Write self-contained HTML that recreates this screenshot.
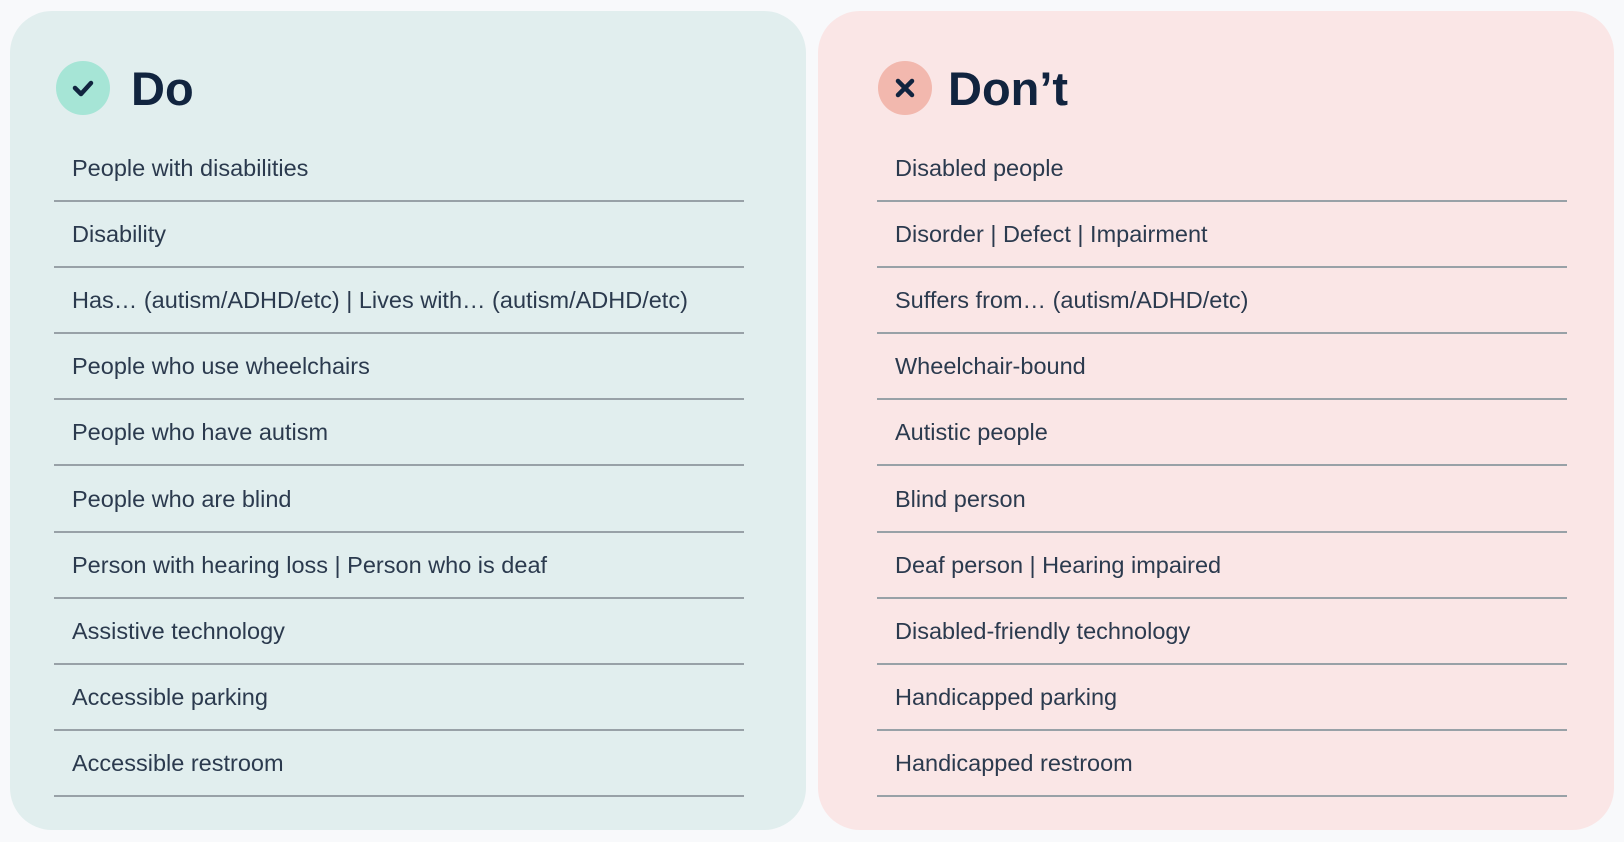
<!DOCTYPE html>
<html><head><meta charset="utf-8"><style>
html,body{margin:0;padding:0;}
body{width:1624px;height:842px;background:#f8f9fb;position:relative;overflow:hidden;font-family:"Liberation Sans",sans-serif;}
.card{position:absolute;top:11px;width:796px;height:819px;border-radius:42px;}
.do{left:10px;background:#e1eeee;}
.dont{left:818px;background:#fae6e6;}
.circ{position:absolute;top:61px;width:54px;height:54px;border-radius:50%;}
.title{position:absolute;top:61px;font-size:47px;font-weight:bold;color:#11243f;}
.item{position:absolute;height:66px;border-bottom:2px solid #98a1a7;box-sizing:border-box;}
.item span{position:absolute;left:18px;top:19px;font-size:23.5px;color:#2b3a4e;white-space:nowrap;}
</style></head><body>
<div class="card do"></div>
<div class="card dont"></div>
<div class="circ" style="left:56px;background:#a6e5d6"><svg width="54" height="54"><path d="M19 27 L25 33 L35 22" stroke="#11243f" stroke-width="4.5" fill="none" stroke-linecap="round" stroke-linejoin="round"/></svg></div>
<div class="title" style="left:131px">Do</div>
<div class="circ" style="left:878px;background:#f2b8ae"><svg width="54" height="54"><path d="M20 20 L34 34 M34 20 L20 34" stroke="#11243f" stroke-width="4.5" fill="none" stroke-linecap="round"/></svg></div>
<div class="title" style="left:948px">Don’t</div>
<div id="l"></div>
<script>
var a=["People with disabilities","Disability","Has… (autism/ADHD/etc) | Lives with… (autism/ADHD/etc)","People who use wheelchairs","People who have autism","People who are blind","Person with hearing loss | Person who is deaf","Assistive technology","Accessible parking","Accessible restroom"];
var b=["Disabled people","Disorder | Defect | Impairment","Suffers from… (autism/ADHD/etc)","Wheelchair-bound","Autistic people","Blind person","Deaf person | Hearing impaired","Disabled-friendly technology","Handicapped parking","Handicapped restroom"];
var h="";
for(var i=0;i<10;i++){var t=136+i*66.1;
h+='<div class="item" style="left:54px;width:690px;top:'+t+'px"><span>'+a[i]+'</span></div>';
h+='<div class="item" style="left:877px;width:690px;top:'+t+'px"><span>'+b[i]+'</span></div>';}
document.getElementById("l").innerHTML=h;
</script>
</body></html>
